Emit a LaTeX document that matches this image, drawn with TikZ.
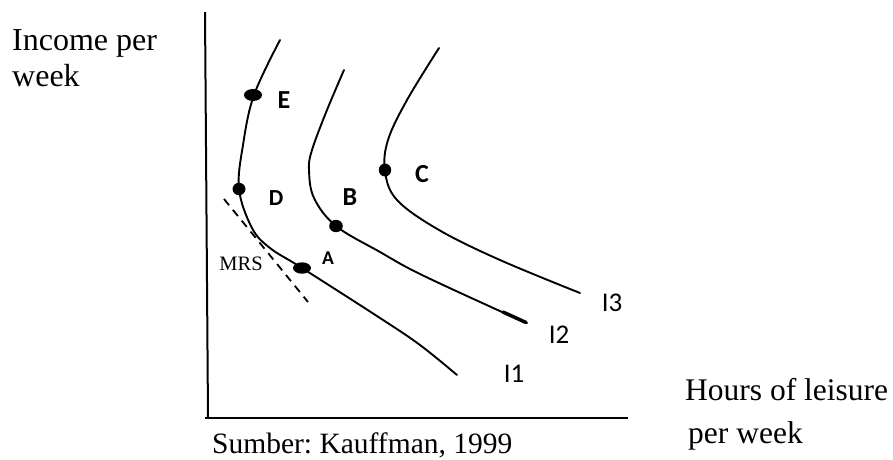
\documentclass[tikz,border=0pt]{standalone}
\usepackage{fontspec}
\setmainfont{Liberation Serif}
\newfontfamily\labfont{Carlito}
\begin{document}
\frenchspacing
\begin{tikzpicture}[x=1pt,y=-1pt,
  curve/.style={line width=1.9pt, line cap=round},
  axis/.style={line width=2pt},
  dot/.style={fill=black, draw=none},
  ptlab/.style={inner sep=0pt, font=\labfont\bfseries\fontsize{26}{26}\selectfont},
  ptlabm/.style={inner sep=0pt, font=\labfont\bfseries\fontsize{23}{23}\selectfont},
  ptlabs/.style={inner sep=0pt, font=\labfont\bfseries\fontsize{19.5}{19.5}\selectfont},
  ilab/.style={inner sep=0pt, font=\labfont\fontsize{27}{27}\selectfont},
  serif/.style={inner sep=0pt, anchor=base west}]
\useasboundingbox (0,0) rectangle (893,459);
% axes
\coordinate (ytop) at (205,12);
\coordinate (origin) at (208,418);
\coordinate (xend) at (628,418);
\draw[axis] (ytop) -- (origin);
\draw[axis] (205,418) -- (xend);
% curves
\draw[curve] plot[smooth, tension=0.6] coordinates {(280,40) (254,95) (243,145) (239,189) (252,228) (270,248) (302,268) (380,318) (420,345) (457,375)};
\draw[curve] plot[smooth, tension=0.6] coordinates {(344,70) (327,110) (312,150) (309,170) (314,198) (336,226) (380,252) (420,274) (502,312) (527,323)};
\draw[line width=3.5pt, line cap=round] (503,312) -- (526,322.5);
\draw[curve] plot[smooth, tension=0.6] coordinates {(439,48) (407,100) (388,140) (385,171) (397,200) (439,230) (500,260) (580,293)};
% MRS tangent
\coordinate (m1) at (224,199);
\coordinate (m2) at (308,302);
\draw[line width=1.8pt, dash pattern=on 8pt off 6pt] (m1) -- (m2);
% dots
\fill[dot] (253,95) ellipse [x radius=9, y radius=6];
\fill[dot] (239,189) ellipse [x radius=6.5, y radius=6.2];
\fill[dot] (336,226) ellipse [x radius=6.8, y radius=6.2];
\fill[dot] (385,170) ellipse [x radius=6.2, y radius=6.5];
\fill[dot] (302,268) ellipse [x radius=9, y radius=5.7];
% point labels
\node[ptlab] (lE) at (284,100) {E};
\node[ptlabm] (lD) at (276,198) {D};
\node[ptlab] (lB) at (350,197) {B};
\node[ptlab] (lC) at (422,174) {C};
\node[ptlabs] (lA) at (328,258) {A};
\node[inner sep=0pt, font=\fontsize{20.5}{20.5}\selectfont] (mrs) at (241,264) {MRS};
% curve labels
\node[ilab] (i1) at (514,374) {I1};
\node[ilab] (i2) at (559,335) {I2};
\node[ilab] (i3) at (612,303) {I3};
% axis titles
\node[serif, font=\fontsize{32}{32}\selectfont] (yt1) at (12,50) {Income per};
\node[serif, font=\fontsize{32}{32}\selectfont] (yt2) at (12,86) {week};
\node[serif, font=\fontsize{31.5}{31.5}\selectfont] (xt1) at (685,400) {Hours of leisure};
\node[serif, font=\fontsize{31.5}{31.5}\selectfont] (xt2) at (688,443) {per week};
\node[serif, font=\fontsize{29.5}{29.5}\selectfont] (src) at (212,453) {Sumber: Kauffman, 1999};
\end{tikzpicture}
\end{document}
